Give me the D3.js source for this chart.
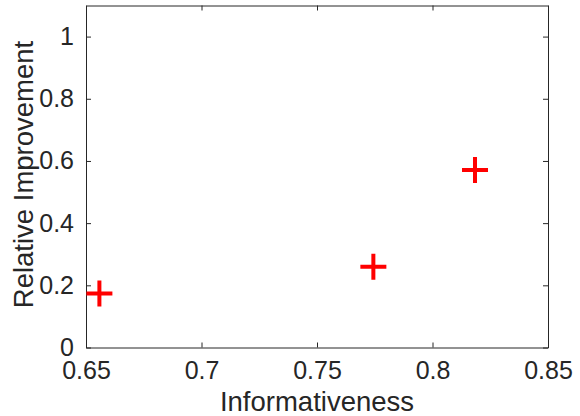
<!DOCTYPE html>
<html>
<head>
<meta charset="utf-8">
<script src="https://cdn.jsdelivr.net/npm/d3@7"></script>
<style>
  body { margin: 0; background: #fff; }
  svg text { font-family: "Liberation Sans", Arial, Helvetica, sans-serif; fill: #262626; }
</style>
</head>
<body>
<div id="viz_container"></div>
<script>
// data
const informativeness = [0.6558, 0.7744, 0.8184];
const improvement = [0.174, 0.260, 0.571];
const xTicks = [0.65, 0.7, 0.75, 0.8, 0.85];
const yTicks = [0, 0.2, 0.4, 0.6, 0.8, 1];

// set the dimensions and margins of the graph
const margin = {top: 5.5, right: 32, bottom: 68.5, left: 86};
const width = 580 - margin.left - margin.right;
const height = 416 - margin.top - margin.bottom;

const svg = d3.select("#viz_container")
  .append("svg")
    .attr("width", 580)
    .attr("height", 416)
  .append("g")
    .attr("transform", `translate(${margin.left}, ${margin.top})`);

const xScale = d3.scaleLinear().domain([0.65, 0.85]).range([0, width]);
const yScale = d3.scaleLinear().domain([0, 1.1]).range([height, 0]);

const axisColor = "#262626";
const tickLen = 5;

// bottom axis with labels, ticks pointing inward
svg.append("g")
    .attr("transform", `translate(0, ${height})`)
  .call(d3.axisBottom(xScale).tickValues(xTicks).tickFormat(d => String(d))
    .tickSizeInner(-tickLen).tickSizeOuter(0).tickPadding(14))
  .call(g => g.selectAll("text").style("font-size", "25px"));

// top axis, ticks only
svg.append("g")
  .call(d3.axisTop(xScale).tickValues(xTicks).tickFormat("")
    .tickSizeInner(-tickLen).tickSizeOuter(0));

// left axis with labels
svg.append("g")
  .call(d3.axisLeft(yScale).tickValues(yTicks).tickFormat(d => String(d))
    .tickSizeInner(-tickLen).tickSizeOuter(0).tickPadding(12))
  .call(g => g.selectAll("text").style("font-size", "25px"));

// right axis, ticks only
svg.append("g")
    .attr("transform", `translate(${width}, 0)`)
  .call(d3.axisRight(yScale).tickValues(yTicks).tickFormat("")
    .tickSizeInner(-tickLen).tickSizeOuter(0));

svg.selectAll(".domain, .tick line")
    .attr("stroke", axisColor)
    .attr("stroke-width", 1);
svg.selectAll(".tick text").attr("fill", axisColor);

// plus markers
const arm = 13;
svg.selectAll("path.marker")
    .data(informativeness.map((x, i) => ({x: x, y: improvement[i]})))
  .join("path")
    .attr("class", "marker")
    .attr("d", d => {
      const cx = xScale(d.x), cy = yScale(d.y);
      return `M${cx - arm},${cy}H${cx + arm}M${cx},${cy - arm}V${cy + arm}`;
    })
    .attr("stroke", "#ff0000")
    .attr("stroke-width", 4)
    .attr("fill", "none");

// X axis label
svg.append("text")
    .attr("x", width / 2)
    .attr("y", height + 63.5)
    .attr("text-anchor", "middle")
    .style("font-size", "27.5px")
  .text("Informativeness");

// Y axis label
svg.append("text")
    .attr("transform", `translate(${33 - margin.left}, ${height / 2 - 2}) rotate(-90)`)
    .attr("text-anchor", "middle")
    .style("font-size", "27.5px")
  .text("Relative Improvement");
</script>
</body>
</html>
